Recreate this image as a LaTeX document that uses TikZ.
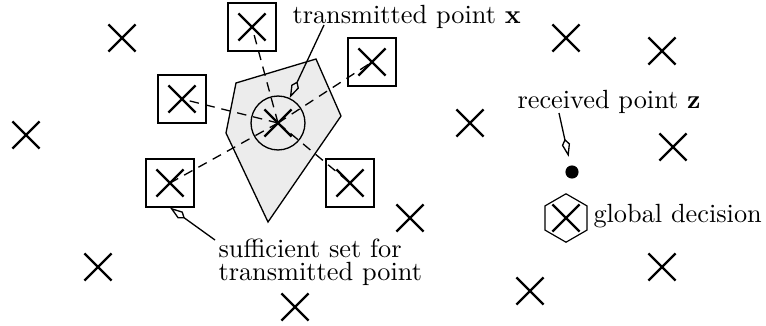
\documentclass[tikz,border=0pt]{standalone}
\usetikzlibrary{shapes.misc,shapes.geometric,arrows.meta}
\begin{document}
\begin{tikzpicture}[x=0.38pt,y=-0.38pt,
  pt/.style={cross out,draw,line width=0.85pt,minimum size=9.5pt,inner sep=0pt},
  boxnode/.style={draw,line width=0.5pt,minimum size=18.2pt,inner sep=0pt},
  linkdash/.style={line width=0.5pt,dash pattern=on 3.6pt off 2.6pt},
  pinline/.style={line width=0.5pt,-{Kite[open,length=7pt,width=3.2pt,inset=2.2pt]}},
  lbl/.style={anchor=base west,inner sep=0pt,font=\fontsize{10pt}{12pt}\selectfont}]
\useasboundingbox (0,0) rectangle (766,326);
% region
\draw[line width=0.5pt,fill=gray!15] (236,83) -- (316,59) -- (341,116) -- (268,222) -- (226,133) -- cycle;
% centre
\node[pt] (X0) at (278,123) {};
\node[circle,draw,line width=0.5pt,minimum size=20.5pt,inner sep=0pt] (C) at (278,123) {};
% boxed neighbours
\node[boxnode] (BT) at (252,27) {};
\node[boxnode] (BR) at (372,62) {};
\node[boxnode] (BL) at (182,99) {};
\node[boxnode] (BBL) at (170,183) {};
\node[boxnode] (BBR) at (350,183) {};
\node[pt] (XT) at (BT) {};
\node[pt] (XR) at (BR) {};
\node[pt] (XL) at (BL) {};
\node[pt] (XBL) at (BBL) {};
\node[pt] (XBR) at (BBR) {};
\foreach \b in {BT,BR,BL,BBL,BBR}{\draw[linkdash] (X0.center) -- (\b.center);}
% free points
\node[pt] (p1) at (122,38) {};
\node[pt] (p2) at (26,135) {};
\node[pt] (p3) at (98,267) {};
\node[pt] (p4) at (295,307) {};
\node[pt] (p5) at (410,218) {};
\node[pt] (p6) at (470,123) {};
\node[pt] (p7) at (566,38) {};
\node[pt] (p8) at (662,51) {};
\node[pt] (p9) at (673,147) {};
\node[pt] (p10) at (662,267) {};
\node[pt] (p11) at (530,291) {};
% received point and decision
\node[circle,fill=black,minimum size=5pt,inner sep=0pt] (Z) at (572,172) {};
\node[regular polygon,regular polygon sides=6,shape border rotate=30,draw,line width=0.45pt,minimum size=18.4pt,inner sep=0pt] (H) at (566,218) {};
\node[pt] (XH) at (H) {};
% labels
\node[lbl] (T1) at (292,23) {transmitted point $\mathbf{x}$};
\node[lbl] (T2) at (517,108) {received point $\mathbf{z}$};
\node[lbl] (T3) at (593,222) {global decision};
\node[lbl] (S1) at (218,257) {sufficient set for};
\node[lbl] (S2) at (218,280) {transmitted point};
% pins
\coordinate (a1) at (324,25);
\coordinate (a2) at (559,113);
\coordinate (a3) at (215,240);
\draw[pinline] (a1) -- (C);
\draw[pinline,shorten >=3.2pt] (a2) -- (Z);
\draw[pinline] (a3) -- (BBL.south);
\end{tikzpicture}
\end{document}
